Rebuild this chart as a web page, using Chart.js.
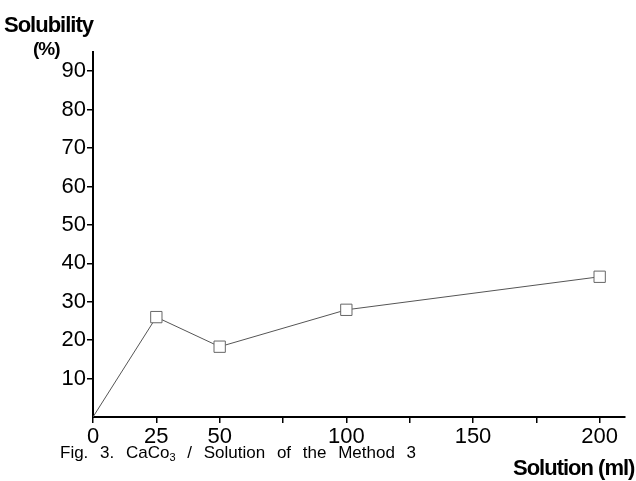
<!DOCTYPE html>
<html>
<head>
<meta charset="utf-8">
<script src="https://cdn.jsdelivr.net/npm/chart.js@4"></script>
<style>
  body { margin: 0; background: #fff; }
  #wrap { position: relative; width: 636px; height: 481px; }
  .lbl { position: absolute; font-family: "Liberation Sans", Arial, sans-serif; color: #000; white-space: nowrap; line-height: 1; }
  .bold { font-weight: bold; letter-spacing: -1px; }
</style>
</head>
<body>
<div id="wrap">
  <canvas id="myChart" width="636" height="481"></canvas>
  <div class="lbl bold" style="left:4px; top:14px; font-size:22px;">Solubility</div>
  <div class="lbl bold" style="left:33px; top:39px; font-size:19px;">(%)</div>
  <div class="lbl" style="left:60px; top:444px; font-size:17px; word-spacing:7px;">Fig. 3. CaCo<span style="font-size:11px; vertical-align:-3px;">3</span> / Solution of the Method 3</div>
  <div class="lbl bold" style="left:513px; top:457px; font-size:22px;">Solution (ml)</div>
</div>
<script>
// data
const solution = [0, 25, 50, 100, 200];
const solubility = [0, 26, 18.3, 27.9, 36.5];
const xTicks = [0, 25, 50, 75, 100, 125, 150, 175, 200];
const xLabels = [0, 25, 50, 100, 150, 200];
const yTicks = [10, 20, 30, 40, 50, 60, 70, 80, 90];

chart();

function chart(){
    const points = [];
    for (let i = 0; i < solution.length; i++) {
        points.push({ x: solution[i], y: solubility[i] });
    }

    const data = {
        datasets: [{
            data: points,
            borderColor: '#555',
            borderWidth: 1,
            backgroundColor: '#fff',
            pointStyle: points.map((p, i) => i === 0 ? false : 'rect'),
            pointRadius: 8,
            pointBorderColor: '#666',
            pointBorderWidth: 1,
            tension: 0,
        }]
    };

    const tickFont = { family: '"Liberation Sans", Arial, sans-serif', size: 22 };

    const config = {
        type: 'line',
        data: data,
        options: {
            responsive: false,
            animation: false,
            layout: { padding: { top: 52, right: 11, left: 0, bottom: 0 } },
            plugins: {
                legend: { display: false },
                tooltip: { enabled: false }
            },
            scales: {
                x: {
                    type: 'linear',
                    min: 0,
                    max: 210,
                    afterBuildTicks: (axis) => { axis.ticks = xTicks.map(v => ({ value: v })); },
                    afterFit: (axis) => { axis.height = 64; },
                    border: { color: '#000', width: 2 },
                    grid: { drawOnChartArea: false, color: '#000', tickLength: 6, lineWidth: 1.5 },
                    ticks: {
                        color: '#000',
                        font: tickFont,
                        padding: 1,
                        maxRotation: 0,
                        autoSkip: false,
                        callback: (v) => xLabels.includes(v) ? String(v) : ''
                    }
                },
                y: {
                    min: 0,
                    max: 95,
                    afterBuildTicks: (axis) => { axis.ticks = yTicks.map(v => ({ value: v })); },
                    afterFit: (axis) => { axis.width = 93; },
                    border: { color: '#000', width: 2 },
                    grid: { drawOnChartArea: false, color: '#000', tickLength: 6, lineWidth: 1.5 },
                    ticks: {
                        color: '#000',
                        font: tickFont,
                        padding: 1,
                        autoSkip: false
                    }
                }
            }
        }
    };

    new Chart(document.getElementById('myChart'), config);
}
</script>
</body>
</html>
